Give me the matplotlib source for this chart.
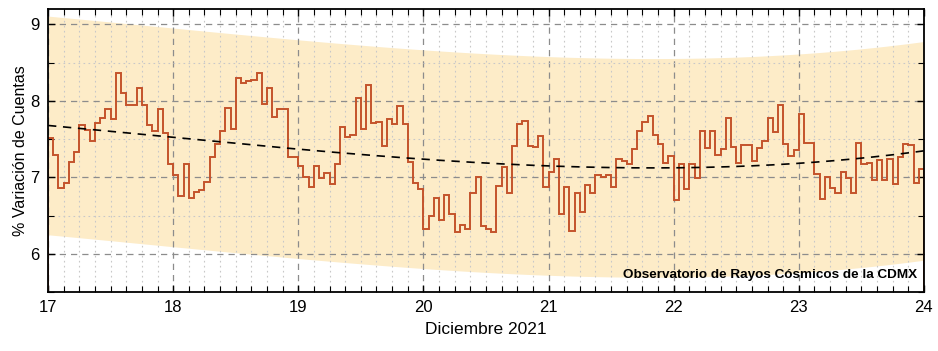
import numpy as np
import matplotlib.pyplot as plt
from matplotlib.ticker import MultipleLocator

plt.rcParams['font.family'] = ['Liberation Sans', 'DejaVu Sans']

# hourly % count variation, 17-23 Dec 2021 (24 values per day)
day17 = [7.52, 7.29, 6.86, 6.92, 7.20, 7.33, 7.69, 7.62, 7.47, 7.71, 7.77, 7.90,
         7.76, 8.36, 8.10, 7.94, 7.94, 8.17, 7.94, 7.69, 7.60, 7.89, 7.58, 7.17]
day18 = [7.03, 6.75, 7.17, 6.73, 6.81, 6.83, 6.94, 7.26, 7.43, 7.61, 7.91, 7.63,
         8.30, 8.23, 8.26, 8.27, 8.36, 7.96, 8.17, 7.79, 7.89, 7.90, 7.26, 7.27]
day19 = [7.15, 7.00, 6.87, 7.15, 6.99, 7.06, 6.91, 7.17, 7.66, 7.53, 7.55, 8.04,
         7.63, 8.21, 7.71, 7.72, 7.41, 7.76, 7.70, 7.93, 7.70, 7.20, 6.93, 6.85]
day20 = [6.33, 6.49, 6.73, 6.44, 6.77, 6.52, 6.29, 6.38, 6.33, 6.80, 7.01, 6.36,
         6.33, 6.28, 6.89, 7.13, 6.80, 7.41, 7.70, 7.74, 7.41, 7.40, 7.54, 6.88]
day21 = [7.07, 7.24, 6.52, 6.87, 6.30, 6.80, 6.55, 6.90, 6.79, 7.03, 7.00, 7.03,
         6.88, 7.24, 7.22, 7.17, 7.37, 7.61, 7.72, 7.80, 7.55, 7.44, 7.19, 7.28]
day22 = [6.70, 7.17, 6.85, 7.17, 6.99, 7.60, 7.39, 7.60, 7.29, 7.37, 7.78, 7.40,
         7.19, 7.42, 7.42, 7.22, 7.39, 7.48, 7.78, 7.59, 7.94, 7.43, 7.28, 7.36]
day23 = [7.83, 7.45, 7.45, 7.04, 6.72, 7.00, 6.86, 6.79, 7.07, 6.99, 6.79, 7.45,
         7.17, 7.19, 6.97, 7.23, 6.97, 7.24, 6.91, 7.26, 7.44, 7.42, 6.93, 7.11]

variacion = np.array(day17 + day18 + day19 + day20 + day21 + day22 + day23)
start_day = 17
band_half = 1.43  # half width of the shaded band

# time in days (hourly bins)
t_edges = start_day + np.arange(len(variacion) + 1) / 24.0
t_mid = t_edges[:-1] + 1 / 48.0

# cubic trend of the data
coef = np.polyfit(t_mid, variacion, 3)
tt = np.linspace(17, 24, 300)
trend = np.polyval(coef, tt)

fig, ax = plt.subplots(figsize=(9.38, 3.51), dpi=100)
fig.subplots_adjust(left=0.0512, right=0.985, top=0.974, bottom=0.168)

ax.fill_between(tt, trend - band_half, trend + band_half, color='#fdecc8', lw=0, zorder=1)
ax.stairs(variacion, t_edges, color='#c4532b', lw=1.4, zorder=4)
ax.plot(tt, trend, color='black', ls=(0, (5, 4)), lw=1.2, zorder=5)

ax.set_xlim(17, 24)
ax.set_ylim(5.5, 9.2)
ax.xaxis.set_major_locator(MultipleLocator(1))
ax.xaxis.set_minor_locator(MultipleLocator(1 / 8))
ax.yaxis.set_major_locator(MultipleLocator(1))
ax.yaxis.set_minor_locator(MultipleLocator(0.5))

ax.grid(which='major', color='#8c8c8c', ls=(0, (5, 4)), lw=0.9, zorder=2)
ax.grid(which='minor', color='#c8c8c8', ls=(0, (1.5, 3)), lw=0.8, zorder=2)
ax.set_axisbelow(False)

ax.tick_params(which='both', direction='in', top=True, right=True, labelsize=12)
ax.tick_params(which='major', length=5, width=1, pad=6)
ax.tick_params(which='minor', length=4, width=0.8)
for s in ax.spines.values():
    s.set_linewidth(1.3)
    s.set_zorder(6)

ax.set_xlabel('Diciembre 2021', fontsize=12.5, labelpad=5)
ax.set_ylabel('% Variación de Cuentas', fontsize=11.5, labelpad=2)
ax.text(0.992, 0.04, 'Observatorio de Rayos Cósmicos de la CDMX', transform=ax.transAxes,
        ha='right', va='bottom', fontsize=9.7, fontweight='bold', zorder=7)

fig.savefig('out.png', dpi=100)
